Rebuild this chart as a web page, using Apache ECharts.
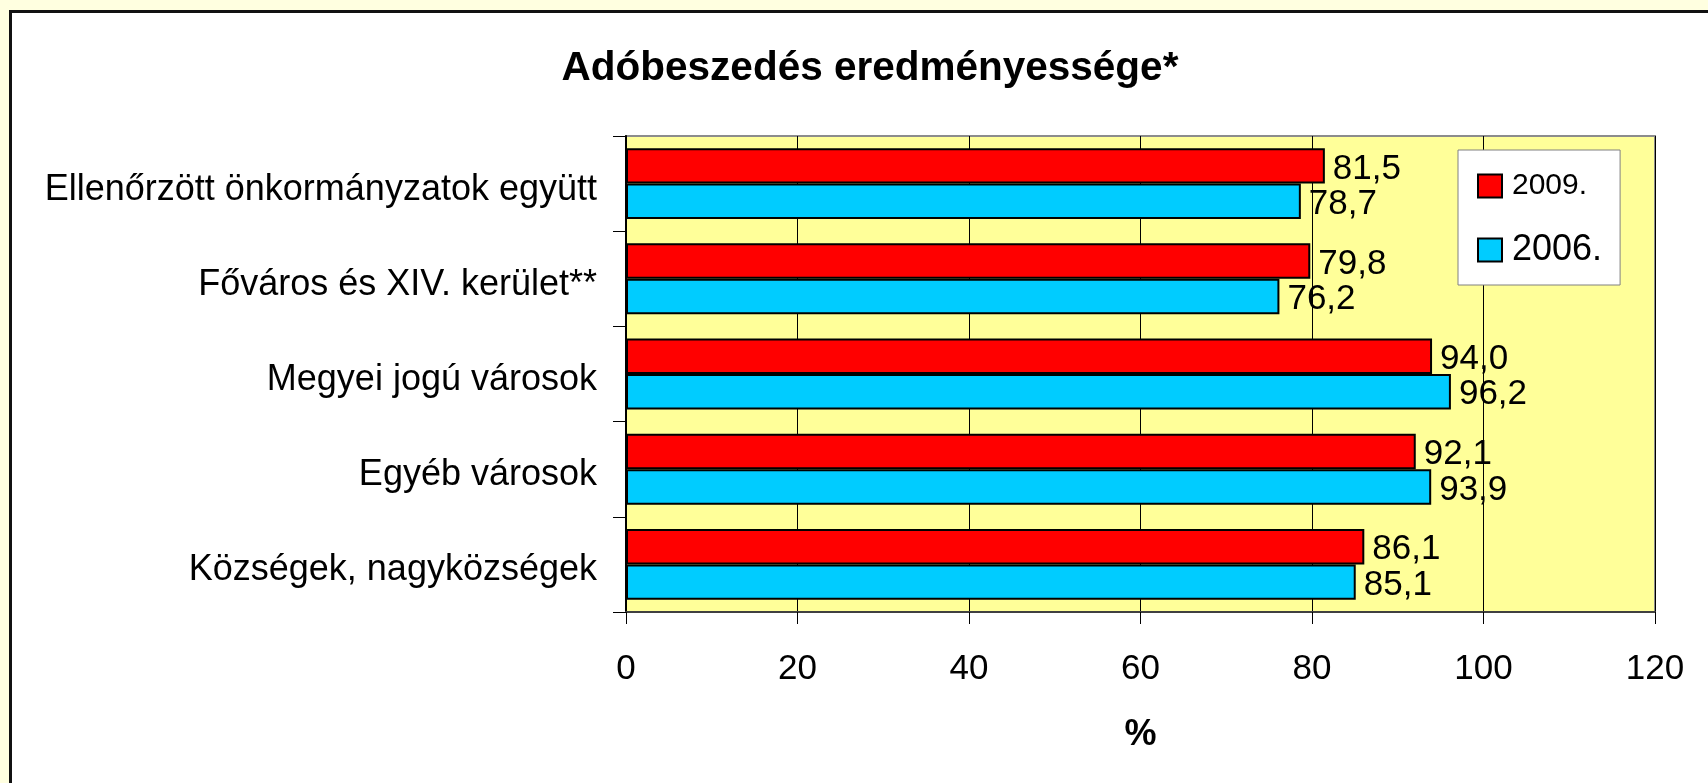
<!DOCTYPE html>
<html>
<head>
<meta charset="utf-8">
<script src="https://cdn.jsdelivr.net/npm/echarts@6/dist/echarts.min.js"></script>
<style>
  html, body { margin: 0; padding: 0; background: #FFFFE0; width: 1708px; height: 783px; overflow: hidden; }
  #panel { position: absolute; left: 9px; top: 10px; width: 1720px; height: 800px; background: #fff;
           border-left: 3px solid #111; border-top: 3px solid #111; }
  #chart { position: absolute; left: 0; top: 0; width: 1708px; height: 783px; }
</style>
</head>
<body>
<div id="panel"></div>
<div id="chart"></div>
<script>
const titleText = 'Adóbeszedés eredményessége*';
const categories = [
  'Ellenőrzött önkormányzatok együtt',
  'Főváros és XIV. kerület**',
  'Megyei jogú városok',
  'Egyéb városok',
  'Községek, nagyközségek'
];
const seriesNames = ['2009.', '2006.'];
const values2009 = [81.5, 79.8, 94.0, 92.1, 86.1];
const values2006 = [78.7, 76.2, 96.2, 93.9, 85.1];
const xMin = 0, xMax = 120, xStep = 20;
const xAxisName = '%';

const FONT = '"Liberation Sans", Arial, sans-serif';
const fmt = v => v.toFixed(1).replace('.', ',');

const chart = echarts.init(document.getElementById('chart'), null, { renderer: 'canvas' });

function barSeries(name, data, color) {
  return {
    name: name,
    type: 'bar',
    data: data,
    barGap: '0%',
    barCategoryGap: '25.5%',
    itemStyle: { color: color, borderColor: '#000', borderWidth: 2 },
    label: {
      show: true, position: 'right', distance: 8, offset: [0, 3],
      color: '#000', fontFamily: FONT, fontSize: 35,
      formatter: p => fmt(p.value)
    },
    emphasis: { disabled: true },
    animation: false
  };
}

chart.setOption({
  backgroundColor: 'transparent',
  animation: false,
  title: {
    text: titleText,
    left: 870, top: 48, textAlign: 'center', padding: 0,
    textStyle: { fontFamily: FONT, fontWeight: 'bold', fontSize: 40.5, color: '#000' }
  },
  grid: {
    left: 626, top: 136, right: 53, bottom: 171,
    show: true, backgroundColor: '#FFFF99', borderColor: '#8c8c8c', borderWidth: 2
  },
  legend: {
    orient: 'vertical',
    left: 1458, top: 150,
    padding: [21, 18, 17, 19],
    itemGap: 31,
    itemWidth: 24, itemHeight: 23,
    backgroundColor: '#fff', borderColor: '#808080', borderWidth: 1,
    data: seriesNames,
    icon: 'rect',
    formatter: name => (name === '2009.' ? '{a|' + name + '}' : '{b|' + name + '}'),
    textStyle: {
      fontFamily: FONT, color: '#000',
      rich: {
        a: { fontFamily: FONT, fontSize: 30, lineHeight: 36, padding: [0, 0, 0, 5] },
        b: { fontFamily: FONT, fontSize: 36, lineHeight: 36, padding: [0, 0, 0, 5] }
      }
    }
  },
  xAxis: {
    type: 'value', min: xMin, max: xMax, interval: xStep,
    name: xAxisName, nameLocation: 'middle', nameGap: 105,
    nameTextStyle: { fontFamily: FONT, fontWeight: 'bold', fontSize: 36, color: '#000' },
    axisLine: { show: true, lineStyle: { color: '#404040', width: 2 } },
    axisTick: { show: true, length: 12, lineStyle: { color: '#000', width: 1 } },
    axisLabel: { margin: 40, fontFamily: FONT, fontSize: 35, color: '#000' },
    splitLine: { show: true, lineStyle: { color: '#000', width: 1 } }
  },
  yAxis: {
    type: 'category', data: categories, inverse: true,
    axisLine: { show: true, lineStyle: { color: '#000', width: 2 } },
    axisTick: { show: true, length: 13, lineStyle: { color: '#000', width: 1 } },
    axisLabel: {
      margin: 29, color: '#000',
      formatter: v => '{c|' + v + '}',
      rich: { c: { fontFamily: FONT, fontSize: 36, color: '#000', padding: [12, 0, 0, 0] } }
    },
    splitLine: { show: false }
  },
  series: [
    barSeries(seriesNames[0], values2009, '#FF0000'),
    barSeries(seriesNames[1], values2006, '#00CCFF')
  ]
});
</script>
</body>
</html>
